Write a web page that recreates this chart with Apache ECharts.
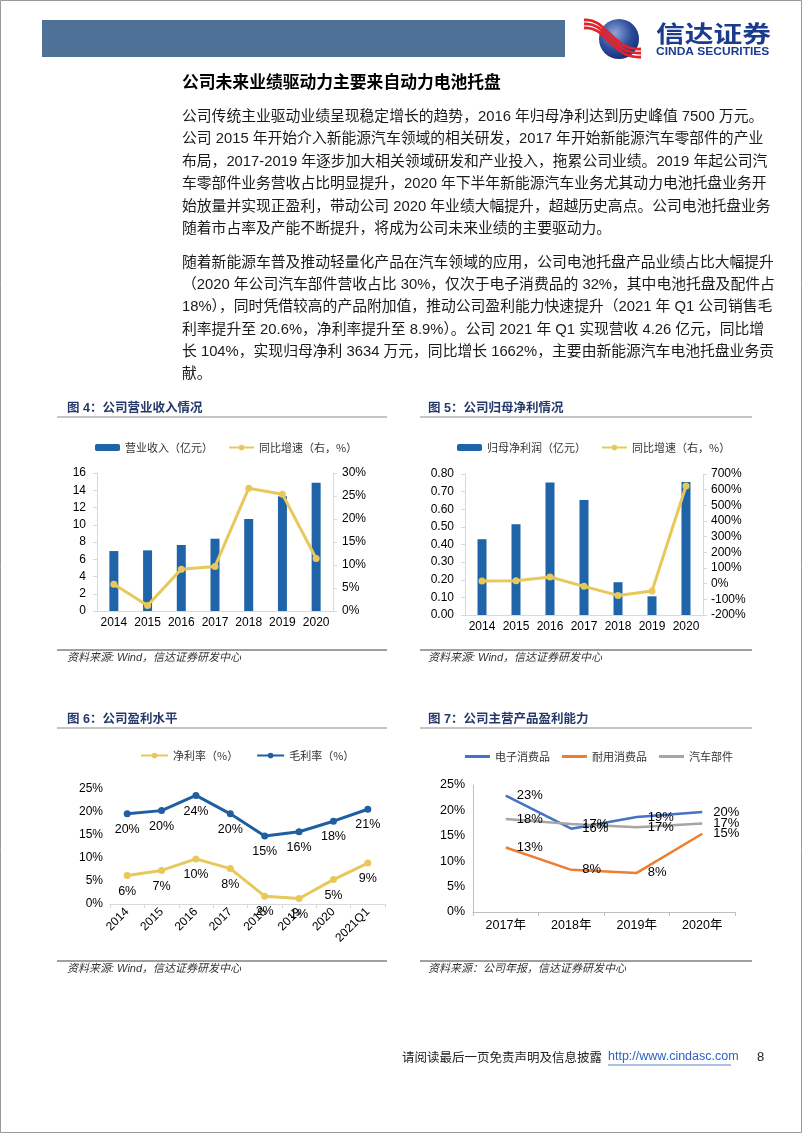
<!DOCTYPE html>
<html>
<head>
<meta charset="utf-8">
<script src="https://cdn.jsdelivr.net/npm/echarts@6/dist/echarts.min.js"></script>
<style>
  html, body { margin: 0; padding: 0; background: #fff; }
  #page { width: 802px; height: 1133px; }
</style>
</head>
<body>
<div id="page"></div>
<script>
// 图4 营业收入
const years = ["2014", "2015", "2016", "2017", "2018", "2019", "2020"];
const revenue = [6.95, 7.03, 7.65, 8.38, 10.66, 13.3, 14.86];
const revenueYoy = [5.8, 1.2, 9.1, 9.7, 26.7, 25.4, 11.4];
// 图5 归母净利
const netProfit = [0.43, 0.515, 0.752, 0.653, 0.186, 0.106, 0.754];
const netProfitYoy = [17, 18, 43, -17, -75, -47, 623];
// 图6 盈利水平
const marginCats = ["2014", "2015", "2016", "2017", "2018", "2019", "2020", "2021Q1"];
const netMargin = [6.2, 7.3, 9.8, 7.7, 1.7, 1.2, 5.3, 8.9];
const grossMargin = [19.6, 20.3, 23.6, 19.6, 14.8, 15.7, 18.0, 20.6];
// 图7 主营产品盈利能力
const productCats = ["2017年", "2018年", "2019年", "2020年"];
const electronics = [22.9, 16.4, 18.7, 19.7];
const durables = [12.7, 8.3, 7.7, 15.4];
const autoParts = [18.3, 17.3, 16.7, 17.4];

const para1 = [
  "公司传统主业驱动业绩呈现稳定增长的趋势，2016 年归母净利达到历史峰值 7500 万元。",
  "公司 2015 年开始介入新能源汽车领域的相关研发，2017 年开始新能源汽车零部件的产业",
  "布局，2017-2019 年逐步加大相关领域研发和产业投入，拖累公司业绩。2019 年起公司汽",
  "车零部件业务营收占比明显提升，2020 年下半年新能源汽车业务尤其动力电池托盘业务开",
  "始放量并实现正盈利，带动公司 2020 年业绩大幅提升，超越历史高点。公司电池托盘业务",
  "随着市占率及产能不断提升，将成为公司未来业绩的主要驱动力。"
];
const para2 = [
  "随着新能源车普及推动轻量化产品在汽车领域的应用，公司电池托盘产品业绩占比大幅提升",
  "（2020 年公司汽车部件营收占比 30%，仅次于电子消费品的 32%，其中电池托盘及配件占",
  "18%），同时凭借较高的产品附加值，推动公司盈利能力快速提升（2021 年 Q1 公司销售毛",
  "利率提升至 20.6%，净利率提升至 8.9%）。公司 2021 年 Q1 实现营收 4.26 亿元，同比增",
  "长 104%，实现归母净利 3634 万元，同比增长 1662%，主要由新能源汽车电池托盘业务贡",
  "献。"
];

const FONT = '"Liberation Sans", "Noto Sans CJK SC", sans-serif';
const CJK = '"Noto Sans CJK SC", sans-serif';
const BLUE_BAR = "#1F64A8";
const GOLD = "#E8C85A";
const LIGHT = "#D9D9D9";

const chart = echarts.init(document.getElementById("page"), null, { renderer: "canvas" });

// 文本小工具
const txt = (text, x, y, font, fill, extra) => ({
  type: "text",
  x: x,
  y: y,
  silent: true,
  style: Object.assign({ text: text, font: font, fill: fill, textVerticalAlign: "middle" }, extra || {})
});
const hline = (x1, x2, y, color, w) => ({
  type: "line",
  silent: true,
  shape: { x1: x1, y1: y, x2: x2, y2: y },
  style: { stroke: color, lineWidth: w }
});

const graphics = [];
// 页框与页眉
graphics.push({ type: "rect", silent: true, shape: { x: 0.5, y: 0.5, width: 801, height: 1132 }, style: { fill: null, stroke: "#9a9a9a", lineWidth: 1 } });
graphics.push({ type: "rect", silent: true, shape: { x: 42, y: 20, width: 523, height: 37 }, style: { fill: "#4E7198" } });
graphics.push({
  type: "circle", silent: true, shape: { cx: 619, cy: 39, r: 20 },
  style: { fill: { type: "radial", x: 0.4, y: 0.35, r: 0.75, colorStops: [
    { offset: 0, color: "#8EA6D6" }, { offset: 0.55, color: "#2C4C9C" }, { offset: 1, color: "#13296B" }] } }
});
[0, 4, 8].forEach(function (d) {
  graphics.push({
    type: "bezierCurve", silent: true,
    shape: { x1: 584, y1: 20 + d, cpx1: 606, cpy1: 17 + d, cpx2: 612, cpy2: 51 + d, x2: 641, y2: 49 + d },
    style: { stroke: "#E1232B", lineWidth: 2.8, fill: null }
  });
});
const logoCn = txt("信达证券", 656, 33, "bold 23px " + CJK, "#1B3C8C");
logoCn.scaleX = 1.25;
graphics.push(logoCn);
const logoEn = txt("CINDA SECURITIES", 656, 52, "bold 10px " + FONT, "#1B3C8C");
logoEn.scaleX = 1.2;
graphics.push(logoEn);

// 标题与正文
graphics.push(txt("公司未来业绩驱动力主要来自动力电池托盘", 182, 82, "bold 16.8px " + CJK, "#000"));
para1.forEach(function (line, i) {
  graphics.push(txt(line, 182, 117 + i * 22.4, "14.8px " + FONT, "#1a1a1a"));
});
para2.forEach(function (line, i) {
  graphics.push(txt(line, 182, 263 + i * 22.2, "14.8px " + FONT, "#1a1a1a"));
});

// 图标题、分隔线、资料来源
const panels = [
  { title: "图 4：公司营业收入情况", x: 67, l: 57, r: 387, ty: 409, src: "资料来源: Wind，信达证券研发中心", sy: 650 },
  { title: "图 5：公司归母净利情况", x: 428, l: 420, r: 752, ty: 409, src: "资料来源: Wind，信达证券研发中心", sy: 650 },
  { title: "图 6：公司盈利水平", x: 67, l: 57, r: 387, ty: 720, src: "资料来源: Wind，信达证券研发中心", sy: 961 },
  { title: "图 7：公司主营产品盈利能力", x: 428, l: 420, r: 752, ty: 720, src: "资料来源：公司年报，信达证券研发中心", sy: 961 }
];
panels.forEach(function (p) {
  graphics.push(txt(p.title, p.x, p.ty, "bold 12.5px " + FONT, "#24396A"));
  graphics.push(hline(p.l, p.r, p.ty + 8, "#8C8C8C", 1.2));
  graphics.push(hline(p.l, p.r, p.sy, "#404040", 1));
  graphics.push(txt(p.src, p.x, p.sy + 8, "italic 11px " + FONT, "#333"));
});

// 页脚
graphics.push(txt("请阅读最后一页免责声明及信息披露", 402, 1057, "12.5px " + CJK, "#222"));
graphics.push(txt("http://www.cindasc.com", 608, 1057, "12.5px " + FONT, "#2F62C0"));
graphics.push(hline(608, 731, 1065, "#2F62C0", 0.8));
graphics.push(txt("8", 757, 1057, "13px " + FONT, "#222"));

const axisLabel = (extra) => Object.assign({ fontSize: 12, color: "#000", fontFamily: FONT }, extra || {});
const legendText = { fontSize: 11, color: "#333", fontFamily: CJK };
const pctLabel = (p) => Math.round(p.value) + "%";

const option = {
  animation: false,
  backgroundColor: "#fff",
  textStyle: { fontFamily: FONT },
  graphic: { elements: graphics },
  legend: [
    { left: 95, top: 442, padding: 0, itemWidth: 25, itemHeight: 7, itemGap: 15, textStyle: legendText,
      data: ["营业收入（亿元）", "同比增速（右，%）"] },
    { left: 457, top: 442, padding: 0, itemWidth: 25, itemHeight: 7, itemGap: 15, textStyle: legendText,
      data: ["归母净利润（亿元）", "同比增速（右，%）"] },
    { left: 140, top: 750, padding: 0, itemWidth: 27, itemHeight: 7, itemGap: 18, textStyle: legendText,
      data: ["净利率（%）", "毛利率（%）"] },
    { left: 465, top: 751, padding: 0, itemWidth: 25, itemHeight: 3, itemGap: 12, textStyle: legendText,
      data: [
        { name: "电子消费品", icon: "rect" },
        { name: "耐用消费品", icon: "rect" },
        { name: "汽车部件", icon: "rect" }
      ] }
  ],
  grid: [
    { left: 97, right: 469, top: 473, bottom: 522 },
    { left: 465, right: 99, top: 474, bottom: 518 },
    { left: 110, right: 417, top: 789, bottom: 229 },
    { left: 473, right: 67, top: 785, bottom: 221 }
  ],
  xAxis: [
    { gridIndex: 0, type: "category", data: years,
      axisLine: { lineStyle: { color: LIGHT } }, axisTick: { show: false },
      axisLabel: axisLabel({ margin: 6, interval: 0 }) },
    { gridIndex: 1, type: "category", data: years,
      axisLine: { lineStyle: { color: LIGHT } }, axisTick: { show: false },
      axisLabel: axisLabel({ margin: 6, interval: 0 }) },
    { gridIndex: 2, type: "category", data: marginCats,
      axisLine: { lineStyle: { color: LIGHT } },
      axisTick: { show: true, length: 4, lineStyle: { color: LIGHT } },
      axisLabel: axisLabel({ margin: 6, rotate: 45, interval: 0 }) },
    { gridIndex: 3, type: "category", data: productCats,
      axisLine: { lineStyle: { color: "#BFBFBF" } },
      axisTick: { show: true, length: 4, lineStyle: { color: "#BFBFBF" } },
      axisLabel: axisLabel({ margin: 7, fontSize: 12.5, interval: 0 }) }
  ],
  yAxis: [
    { gridIndex: 0, type: "value", min: 0, max: 16, interval: 2, splitLine: { show: false },
      axisLine: { show: true, lineStyle: { color: LIGHT } },
      axisTick: { show: true, length: 4, lineStyle: { color: LIGHT } },
      axisLabel: axisLabel({ margin: 11 }) },
    { gridIndex: 0, type: "value", position: "right", min: 0, max: 30, interval: 5, splitLine: { show: false },
      axisLine: { show: true, lineStyle: { color: LIGHT } },
      axisTick: { show: true, length: 4, lineStyle: { color: LIGHT } },
      axisLabel: axisLabel({ margin: 9, formatter: "{value}%" }) },
    { gridIndex: 1, type: "value", min: 0, max: 0.8, interval: 0.1, splitLine: { show: false },
      axisLine: { show: true, lineStyle: { color: LIGHT } },
      axisTick: { show: true, length: 4, lineStyle: { color: LIGHT } },
      axisLabel: axisLabel({ margin: 11, formatter: (v) => v.toFixed(2) }) },
    { gridIndex: 1, type: "value", position: "right", min: -200, max: 700, interval: 100, splitLine: { show: false },
      axisLine: { show: true, lineStyle: { color: LIGHT } },
      axisTick: { show: true, length: 4, lineStyle: { color: LIGHT } },
      axisLabel: axisLabel({ margin: 8, formatter: "{value}%" }) },
    { gridIndex: 2, type: "value", min: 0, max: 25, interval: 5, splitLine: { show: false },
      axisLine: { show: false }, axisTick: { show: false },
      axisLabel: axisLabel({ margin: 7, formatter: "{value}%" }) },
    { gridIndex: 3, type: "value", min: 0, max: 25, interval: 5, splitLine: { show: false },
      axisLine: { show: true, lineStyle: { color: "#BFBFBF" } },
      axisTick: { show: false },
      axisLabel: axisLabel({ margin: 8, fontSize: 12.5, formatter: "{value}%" }) }
  ],
  series: [
    { name: "营业收入（亿元）", type: "bar", xAxisIndex: 0, yAxisIndex: 0, barWidth: 9,
      itemStyle: { color: BLUE_BAR }, data: revenue },
    { name: "同比增速（右，%）", type: "line", xAxisIndex: 0, yAxisIndex: 1,
      symbol: "circle", symbolSize: 7, itemStyle: { color: GOLD }, lineStyle: { width: 3, color: GOLD },
      data: revenueYoy },
    { name: "归母净利润（亿元）", type: "bar", xAxisIndex: 1, yAxisIndex: 2, barWidth: 9,
      itemStyle: { color: BLUE_BAR }, data: netProfit },
    { name: "同比增速（右，%）", type: "line", xAxisIndex: 1, yAxisIndex: 3,
      symbol: "circle", symbolSize: 7, itemStyle: { color: GOLD }, lineStyle: { width: 3, color: GOLD },
      data: netProfitYoy },
    { name: "净利率（%）", type: "line", xAxisIndex: 2, yAxisIndex: 4,
      symbol: "circle", symbolSize: 7, itemStyle: { color: GOLD }, lineStyle: { width: 3, color: GOLD },
      label: { show: true, position: "bottom", distance: 6, fontSize: 12.5, color: "#000", fontFamily: FONT, formatter: pctLabel },
      data: netMargin },
    { name: "毛利率（%）", type: "line", xAxisIndex: 2, yAxisIndex: 4,
      symbol: "circle", symbolSize: 7, itemStyle: { color: "#1F5FA0" }, lineStyle: { width: 3, color: "#1F5FA0" },
      label: { show: true, position: "bottom", distance: 6, fontSize: 12.5, color: "#000", fontFamily: FONT, formatter: pctLabel },
      data: grossMargin },
    { name: "电子消费品", type: "line", xAxisIndex: 3, yAxisIndex: 5, symbol: "circle", symbolSize: 0.01,
      itemStyle: { color: "#4472C4" }, lineStyle: { width: 2.5, color: "#4472C4" },
      label: { show: true, position: "right", distance: 11, fontSize: 13, color: "#000", fontFamily: FONT, formatter: pctLabel },
      data: electronics },
    { name: "耐用消费品", type: "line", xAxisIndex: 3, yAxisIndex: 5, symbol: "circle", symbolSize: 0.01,
      itemStyle: { color: "#ED7D31" }, lineStyle: { width: 2.5, color: "#ED7D31" },
      label: { show: true, position: "right", distance: 11, fontSize: 13, color: "#000", fontFamily: FONT, formatter: pctLabel },
      data: durables },
    { name: "汽车部件", type: "line", xAxisIndex: 3, yAxisIndex: 5, symbol: "circle", symbolSize: 0.01,
      itemStyle: { color: "#A5A5A5" }, lineStyle: { width: 2.5, color: "#A5A5A5" },
      label: { show: true, position: "right", distance: 11, fontSize: 13, color: "#000", fontFamily: FONT, formatter: pctLabel },
      data: autoParts }
  ]
};

chart.setOption(option);
</script>
</body>
</html>
